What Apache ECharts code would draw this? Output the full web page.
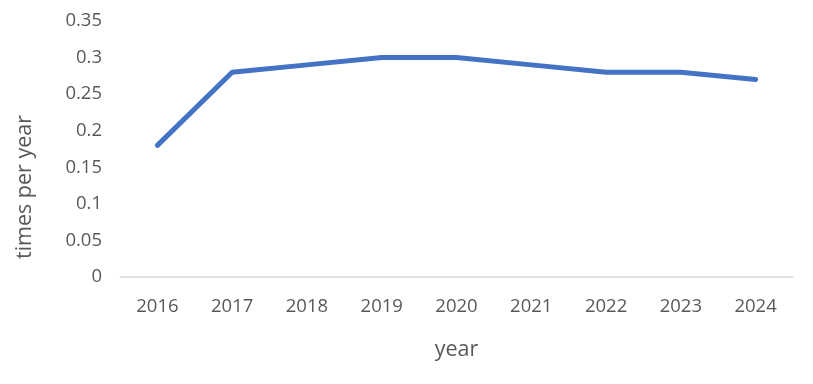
<!DOCTYPE html>
<html><head><meta charset="utf-8">
<script src="https://cdn.jsdelivr.net/npm/echarts@6/dist/echarts.min.js"></script>
<style>html,body{margin:0;padding:0;background:#fff}#c{width:813px;height:384px}</style>
</head><body><div id="c"></div>
<script>
var years = ['2016','2017','2018','2019','2020','2021','2022','2023','2024'];
var timesPerYear = [0.18, 0.28, 0.29, 0.30, 0.30, 0.29, 0.28, 0.28, 0.27];
var chart = echarts.init(document.getElementById('c'), null, {renderer:'canvas'});
var font = 'Open Sans';
chart.setOption({
  animation:false,
  grid:{left:120, right:20, top:21, bottom:107},
  graphic:[{
    type:'text', x:25, y:187, rotation:Math.PI/2,
    style:{text:'times per year', fill:'#595959', fontSize:21.5, fontFamily:font,
      align:'center', verticalAlign:'middle'}
  }],
  xAxis:{
    type:'category', data:years, boundaryGap:true,
    name:'year', nameLocation:'middle', nameGap:62,
    nameTextStyle:{color:'#595959', fontSize:21.5, fontFamily:font},
    axisLine:{lineStyle:{color:'#d9d9d9', width:1.5}},
    axisTick:{show:false},
    axisLabel:{color:'#595959', fontSize:18.5, fontFamily:font, margin:20}
  },
  yAxis:{
    type:'value', min:0, max:0.35, interval:0.05,
    axisLine:{show:false}, axisTick:{show:false}, splitLine:{show:false},
    axisLabel:{color:'#595959', fontSize:18.5, fontFamily:font, margin:18,
      formatter:function(v){return String(Math.round(v*100)/100);}}
  },
  series:[{type:'line', data:timesPerYear, symbol:'none',
    lineStyle:{color:'#4472C4', width:5, cap:'round', join:'round'}}]
});
</script></body></html>
